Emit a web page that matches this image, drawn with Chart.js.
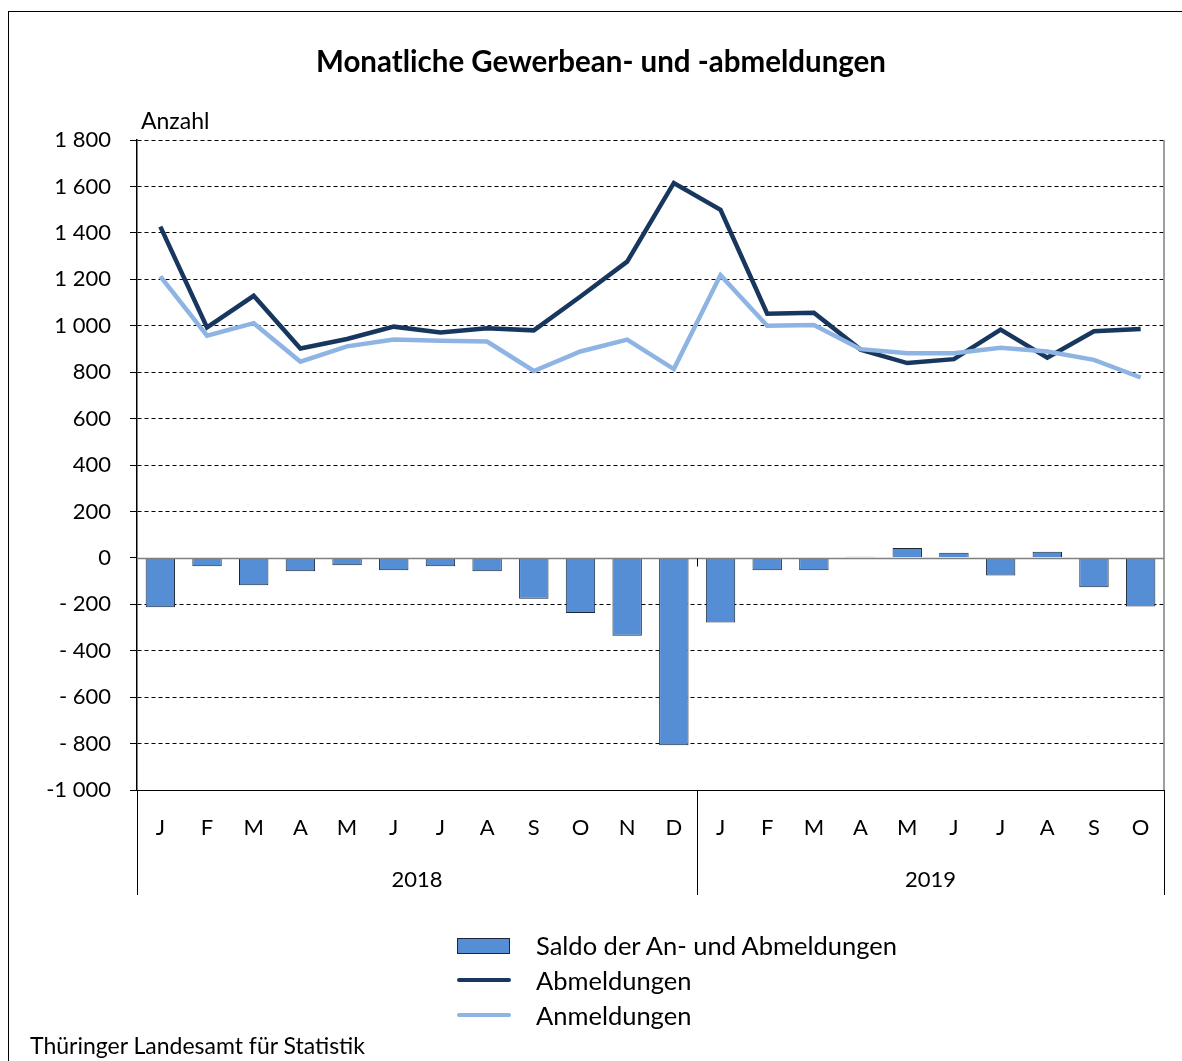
<!DOCTYPE html>
<html lang="de">
<head>
<meta charset="utf-8">
<title>Monatliche Gewerbean- und -abmeldungen</title>
<script src="https://cdn.jsdelivr.net/npm/chart.js@4.4.1/dist/chart.umd.min.js"></script>
<style>
    html, body { margin: 0; padding: 0; background: #fff; overflow: hidden; }
    body { width: 1182px; height: 1061px; position: relative; font-family: Lato, "Noto Sans", sans-serif; color: #000; }
    #frame { position: absolute; left: 8px; top: 11px; width: 1300px; height: 1200px; border-left: 1.5px solid #000; border-top: 1.5px solid #000; }
    #chart { position: absolute; left: 0; top: 0; }
    .title { position: absolute; left: 0; width: 1202px; top: 43px; text-align: center; font-weight: 700; font-size: 29.5px; }
    .unit { position: absolute; left: 141px; top: 106px; font-size: 23px; }
    .legend { position: absolute; left: 456px; top: 928px; font-size: 25.5px; }
    .legend div { height: 35px; position: relative; padding-left: 80px; line-height: 34px; }
    .legend .sw { position: absolute; left: 1px; }
    .sw.bar { top: 10px; width: 51px; height: 14px; background: #558ED5; border: 1px solid #1b2636; }
    .sw.line { top: 15px; width: 54px; height: 4px; border-radius: 2px; }
    .source { position: absolute; left: 30px; top: 1031px; font-size: 23px; }
</style>
</head>
<body>
<div id="frame"></div>
<canvas id="chart" width="1182" height="1061"></canvas>
<div class="title">Monatliche Gewerbean- und -abmeldungen</div>
<div class="unit">Anzahl</div>
<div class="legend">
    <div><span class="sw bar"></span>Saldo der An- und Abmeldungen</div>
    <div><span class="sw line" style="background:#17375E"></span>Abmeldungen</div>
    <div><span class="sw line" style="background:#8EB4E3"></span>Anmeldungen</div>
</div>
<div class="source">Thüringer Landesamt für Statistik</div>

<script>
    "use strict";

    // Data
    var months = ["J", "F", "M", "A", "M", "J", "J", "A", "S", "O", "N", "D",
                  "J", "F", "M", "A", "M", "J", "J", "A", "S", "O"];
    var years = ["2018", "2019"];
    var yearLengths = [12, 10];
    var abmeldungen = [1427, 993, 1129, 902, 943, 996, 971, 989, 980, 1126, 1276, 1615,
                       1499, 1052, 1056, 897, 839, 856, 983, 862, 976, 986];
    var anmeldungen = [1213, 957, 1011, 845, 911, 941, 935, 932, 805, 889, 940, 813,
                       1218, 1000, 1003, 899, 881, 881, 905, 889, 853, 777];
    var saldo = [-213, -36, -118, -58, -32, -53, -36, -58, -176, -237, -335, -807,
                 -278, -53, -53, 5, 43, 22, -76, 26, -127, -209];
    var yMin = -1000, yMax = 1800, yStep = 200;

    function fmt(v) {
        var s = Math.abs(v).toString().replace(/\B(?=(\d{3})+(?!\d))/g, " ");
        if (v >= 0) return s;
        return Math.abs(v) >= 1000 ? "-" + s : "- " + s;
    }

    // Zero line, right border, year separators and year labels
    var extras = {
        id: "extras",
        afterDatasetsDraw: function (chart) {
            var ctx = chart.ctx, a = chart.chartArea;
            var y = chart.scales.y;
            var y0 = Math.round(y.getPixelForValue(0)) + 0.5;
            var cw = (a.right - a.left) / months.length;
            ctx.save();
            ctx.strokeStyle = "#808080";
            ctx.lineWidth = 1.5;
            ctx.beginPath();
            ctx.moveTo(a.left, y0);
            ctx.lineTo(a.right, y0);
            ctx.moveTo(a.right, a.top);
            ctx.lineTo(a.right, a.bottom);
            ctx.stroke();

            var bottom = a.bottom + 105;
            var idx = 0, bounds = [0];
            yearLengths.forEach(function (n) { idx += n; bounds.push(idx); });
            ctx.strokeStyle = "#000";
            ctx.lineWidth = 1;
            ctx.beginPath();
            bounds.forEach(function (b) {
                var bx = Math.round(a.left + b * cw) + 0.5;
                ctx.moveTo(bx, a.bottom);
                ctx.lineTo(bx, bottom);
                if (b > 0 && b < months.length) {
                    ctx.moveTo(bx, y0);
                    ctx.lineTo(bx, y0 + 8);
                }
            });
            ctx.stroke();

            ctx.fillStyle = "#000";
            ctx.font = "22px Lato";
            ctx.textAlign = "center";
            ctx.textBaseline = "middle";
            years.forEach(function (yr, i) {
                var cx = a.left + (bounds[i] + bounds[i + 1]) / 2 * cw;
                ctx.fillText(yr, cx, a.bottom + 90);
            });
            ctx.restore();
        }
    };

    Chart.defaults.font.family = "Lato";
    Chart.defaults.font.size = 22;
    Chart.defaults.color = "#000";

    new Chart(document.getElementById("chart").getContext("2d"), {
        type: "bar",
        data: {
            labels: months,
            datasets: [
                {
                    type: "line", label: "Anmeldungen", data: anmeldungen, order: 1,
                    borderColor: "#8EB4E3", borderWidth: 4.5, pointRadius: 0, tension: 0, fill: false
                },
                {
                    type: "line", label: "Abmeldungen", data: abmeldungen, order: 2,
                    borderColor: "#17375E", borderWidth: 4.5, pointRadius: 0, tension: 0, fill: false
                },
                {
                    type: "bar", label: "Saldo der An- und Abmeldungen", data: saldo, order: 3,
                    backgroundColor: "#558ED5", borderColor: "#1b2636", borderWidth: 1,
                    barPercentage: 0.63, categoryPercentage: 1
                }
            ]
        },
        options: {
            responsive: false,
            animation: false,
            layout: { padding: { top: 140, left: 37, right: 18, bottom: 166 } },
            plugins: { legend: { display: false }, tooltip: { enabled: false } },
            scales: {
                x: {
                    offset: true,
                    grid: { display: false },
                    border: { display: true, color: "#000", width: 1 },
                    ticks: { padding: 17, maxRotation: 0, autoSkip: false },
                    afterFit: function (s) { s.height = 105; }
                },
                y: {
                    min: yMin, max: yMax,
                    ticks: { stepSize: yStep, padding: 19, callback: function (v) { return fmt(v); } },
                    grid: {
                        color: function (c) { return c.tick && c.tick.value === 0 ? "rgba(0,0,0,0)" : "#000"; },
                        lineWidth: 1, tickLength: 7, tickColor: "#000"
                    },
                    border: { display: true, color: "#000", width: 1.5, dash: [4, 3] },
                    afterFit: function (s) { s.width = 100; }
                }
            }
        },
        plugins: [extras]
    });
</script>
</body>
</html>
